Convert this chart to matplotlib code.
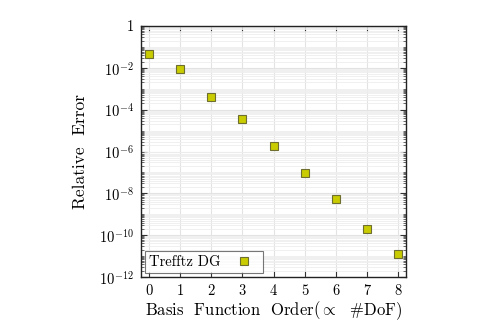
import matplotlib
matplotlib.use("Agg")
import matplotlib.pyplot as plt
from matplotlib.ticker import LogLocator, NullFormatter

plt.rcParams['mathtext.fontset'] = 'cm'
plt.rcParams['font.family'] = 'serif'
plt.rcParams['font.serif'] = ['cmr10', 'DejaVu Serif']
plt.rcParams['axes.formatter.use_mathtext'] = True

orders = [0, 1, 2, 3, 4, 5, 6, 7, 8]
rel_error = [4.7e-2, 8.7e-3, 4.0e-4, 3.4e-5, 1.8e-6, 9.5e-8, 5.5e-9, 1.9e-10, 1.3e-11]
series_label = "Trefftz DG"
ytick_vals = [1, 1e-2, 1e-4, 1e-6, 1e-8, 1e-10, 1e-12]
ytick_labels = ['1', r'$10^{-2}$', r'$10^{-4}$', r'$10^{-6}$', r'$10^{-8}$', r'$10^{-10}$', r'$10^{-12}$']
xtick_vals = [0, 1, 2, 3, 4, 5, 6, 7, 8]

fig = plt.figure(figsize=(4.99, 3.32), dpi=100)
ax = fig.add_axes([141/499, 1-277/332, (406-141)/499, (277-26)/332])

ax.set_yscale('log')
ax.set_ylim(1e-12, 1)
ax.set_xlim(-0.26, 8.26)

ax.plot(orders, rel_error, linestyle='none', marker='s', markersize=5.5,
        markerfacecolor='#c8cc00', markeredgecolor='#6e6e30', markeredgewidth=0.8,
        label=series_label, zorder=3)

ax.set_yticks(ytick_vals)
ax.set_yticklabels(ytick_labels)
ax.yaxis.set_minor_locator(LogLocator(base=10, subs=range(1, 10), numticks=20))
ax.yaxis.set_minor_formatter(NullFormatter())
ax.set_xticks(xtick_vals)
ax.set_xticklabels([str(v) for v in xtick_vals])

ax.grid(True, which='major', color='#e3e3e3', linewidth=0.8, zorder=0)
ax.grid(True, which='minor', axis='y', color='#eeeeee', linewidth=0.6, zorder=0)
ax.set_axisbelow(True)

ax.tick_params(which='both', direction='in', top=True, right=True, color='#333333')
ax.tick_params(which='major', length=4, width=0.8, labelsize=10.5, pad=5)
ax.tick_params(which='minor', length=2, width=0.5)
for s in ax.spines.values():
    s.set_linewidth(1.0)
    s.set_color('#222222')

ax.set_xlabel(r'Basis  Function  Order($\propto$  #DoF)', fontsize=12, labelpad=1)
ax.set_ylabel(r'Relative  Error', fontsize=12.5, labelpad=8)

leg = ax.legend(loc='lower left', markerfirst=False, fontsize=10.5, frameon=True,
                fancybox=False, edgecolor='#555555', borderaxespad=0.25,
                handletextpad=0.6, borderpad=0.3, handlelength=2.0)
leg.get_frame().set_linewidth(0.8)

fig.savefig('out.png', dpi=100)
